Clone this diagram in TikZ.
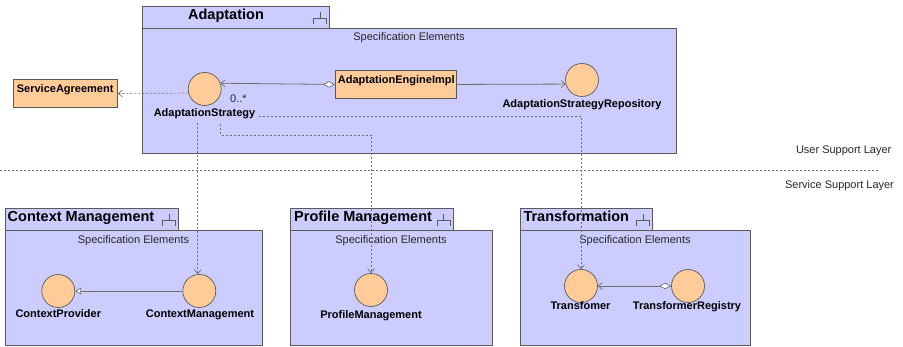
\documentclass[tikz,border=0pt]{standalone}
\usepackage{fontspec}
\setmainfont{Liberation Sans}
\usetikzlibrary{arrows.meta}
\definecolor{pkgfill}{HTML}{CCCCFF}
\definecolor{elemfill}{HTML}{FFCC99}
\definecolor{edge}{HTML}{5A5A5A}
\definecolor{wire}{HTML}{707070}
\begin{document}
\begin{tikzpicture}[x=1pt,y=-1pt,
  pkgpart/.style={draw=edge, fill=pkgfill, line width=0.9pt, inner sep=0pt, anchor=north west},
  pkgtitle/.style={font=\fontsize{14.5}{16}\selectfont\bfseries, inner sep=0pt},
  plain/.style={font=\fontsize{11}{13}\selectfont, inner sep=0pt, text=black!85},
  iface/.style={circle, draw=edge, fill=elemfill, minimum size=33pt, inner sep=0pt, line width=0.7pt},
  cls/.style={draw=edge, fill=elemfill, line width=0.9pt, inner sep=0pt, anchor=north west},
  lbl/.style={font=\fontsize{11}{13}\selectfont\bfseries, inner sep=0pt},
  dep/.style={draw=wire, line width=0.7pt, dash pattern=on 2pt off 2pt,
    -{Straight Barb[length=4pt,width=7pt,line width=0.7pt]}},
  assoc/.style={draw=wire, line width=0.8pt,
    -{Straight Barb[length=4pt,width=7pt,line width=0.7pt]}},
  aggr/.style={draw=wire, line width=0.8pt,
    {Diamond[open,fill=white,length=12pt,width=6.5pt,line width=0.7pt]}-{Straight Barb[length=4pt,width=7pt,line width=0.7pt]}},
  realize/.style={draw=wire, line width=0.8pt,
    -{Triangle[open,fill=white,length=6pt,width=7pt,line width=0.7pt]}},
  pkgicon/.pic={\draw[edge, line width=0.7pt] (-6.5,6) -- (-6.5,0) -- (6.5,0) -- (6.5,6) (0,0) -- (0,-6);}
]
\useasboundingbox (0,0) rectangle (903,347);

% ---- Adaptation package ----
\node[pkgpart, minimum width=534pt, minimum height=125pt] (adBody) at (142,28) {};
\node[pkgpart, minimum width=187pt, minimum height=22pt] (adTab) at (142,6) {};
\node[pkgtitle, anchor=base] (adTitle) at (226,19.3) {Adaptation};
\pic at (320,18) {pkgicon};
\node[plain, anchor=base] (adSpec) at (409,40.7) {Specification Elements};

\node[iface] (as) at (204.7,89) {};
\node[lbl, anchor=base] (asl) at (204.5,116.7) {AdaptationStrategy};
\node[plain, anchor=base west] (mult) at (230,102.3) {0..*};
\node[iface] (rep) at (582,80) {};
\node[lbl, anchor=base] (repl) at (582,107.3) {AdaptationStrategyRepository};
\node[cls, minimum width=121pt, minimum height=28pt] (aei) at (335,70) {};
\node[lbl, anchor=base west] at (337.7,83.3) {AdaptationEngineImpl};

\node[cls, minimum width=104pt, minimum height=28pt] (sa) at (13,79) {};
\node[lbl, anchor=base west] at (16.7,92.3) {ServiceAgreement};

% ---- layer separation ----
\coordinate (layerL) at (0,170);
\coordinate (layerR) at (878,170);
\draw[wire, line width=0.7pt, dash pattern=on 2pt off 2pt] (layerL) -- (layerR);
\node[plain, anchor=base] (usl) at (843.7,154) {User Support Layer};
\node[plain, anchor=base] (ssl) at (839.5,189) {Service Support Layer};

% ---- Context Management package ----
\node[pkgpart, minimum width=257pt, minimum height=115pt] (cmBody) at (5,230) {};
\node[pkgpart, minimum width=173pt, minimum height=22pt] (cmTab) at (5,208) {};
\node[pkgtitle, anchor=base west] at (7.5,221.7) {Context Management};
\pic at (169,220) {pkgicon};
\node[plain, anchor=base] at (133.5,243.3) {Specification Elements};
\node[iface] (cp) at (58.3,291) {};
\node[lbl, anchor=base] at (58.3,317.7) {ContextProvider};
\node[iface] (cmg) at (199.3,291) {};
\node[lbl, anchor=base] at (200,317.7) {ContextManagement};

% ---- Profile Management package ----
\node[pkgpart, minimum width=202pt, minimum height=115pt] (pmBody) at (290,230) {};
\node[pkgpart, minimum width=162.7pt, minimum height=22pt] (pmTab) at (290,208) {};
\node[pkgtitle, anchor=base west] at (294,221.7) {Profile Management};
\pic at (443.7,220) {pkgicon};
\node[plain, anchor=base] at (391,243.3) {Specification Elements};
\node[iface] (pm) at (371,290) {};
\node[lbl, anchor=base] at (371,318.3) {ProfileManagement};

% ---- Transformation package ----
\node[pkgpart, minimum width=230pt, minimum height=115pt] (trBody) at (520,230) {};
\node[pkgpart, minimum width=132pt, minimum height=22pt] (trTab) at (520,208) {};
\node[pkgtitle, anchor=base west] at (523.3,221.7) {Transformation};
\pic at (643,220) {pkgicon};
\node[plain, anchor=base] at (635,243.3) {Specification Elements};
\node[iface] (tf) at (581,286) {};
\node[lbl, anchor=base] at (580.5,309.3) {Transfomer};
\node[iface] (treg) at (688,286) {};
\node[lbl, anchor=base] at (687,309.3) {TransformerRegistry};

% ---- connectors ----
\draw[dep] (as.194) -- (sa.east);
\draw[aggr] (aei.west) -- (as.20);
\draw[assoc] (aei.east) -- (rep.194);
\draw[realize] (cmg.west) -- (cp.east);
\draw[aggr] (treg.west) -- (tf.east);

\coordinate (depA) at (259,116);
\coordinate (depB) at (220.5,124);
\coordinate (depC) at (197.7,123);
\draw[dep] (depA) -| (tf.north);
\draw[dep] (depB) -- (220.5,135) -| (pm.north);
\draw[dep] (depC) -- (depC |- cmg.north);
\end{tikzpicture}
\end{document}
